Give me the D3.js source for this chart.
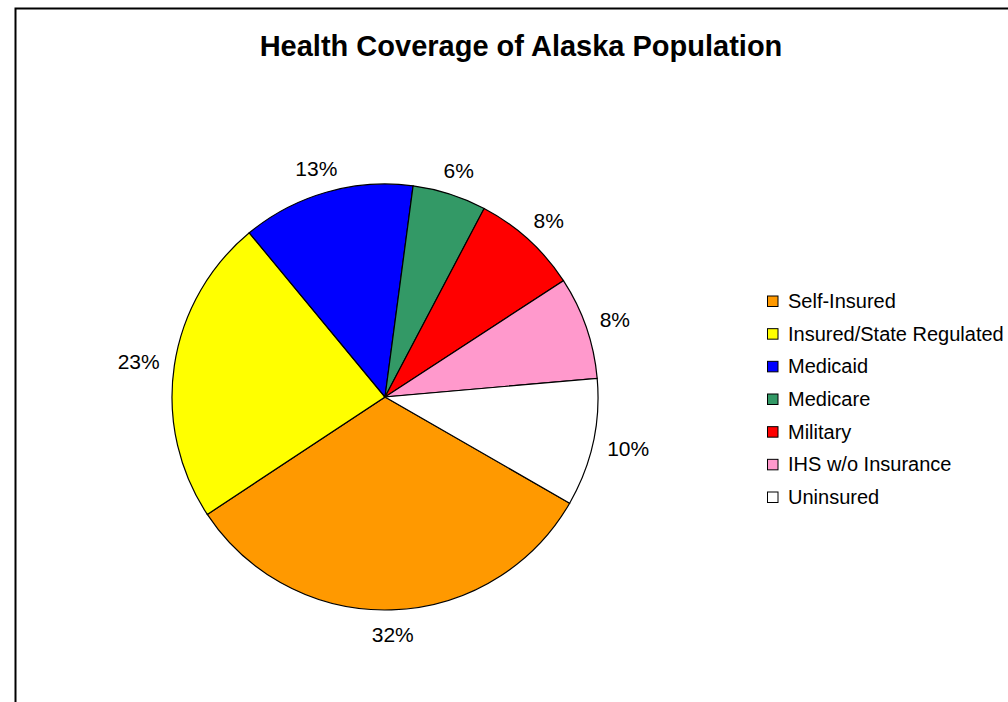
<!DOCTYPE html>
<html>
<head>
<meta charset="utf-8">
<script src="https://cdn.jsdelivr.net/npm/d3@7"></script>
<style>
  html, body { margin: 0; padding: 0; background: #fff; }
  svg { display: block; font-family: "Liberation Sans", Arial, sans-serif; }
</style>
</head>
<body>
<svg id="chart" width="1008" height="702"></svg>
<script>
// Chart data
const categories = ["Self-Insured", "Insured/State Regulated", "Medicaid", "Medicare", "Military", "IHS w/o Insurance", "Uninsured"]
const shares = [32.4, 23.3, 13.1, 5.6, 8.1, 7.8, 9.7]
const colours = ["#FF9900", "#FFFF00", "#0000FF", "#339966", "#FF0000", "#FF99CC", "#FFFFFF"]
const title = "Health Coverage of Alaska Population"

const svg = d3.select("#chart")
const width = 1008, height = 702

// Chart area frame (runs off the right and bottom edges)
svg.append("rect")
  .attr("x", 15.5).attr("y", 8.5)
  .attr("width", width).attr("height", height)
  .attr("fill", "#fff")
  .attr("stroke", "#000")
  .attr("stroke-width", 2)

svg.append("text")
  .attr("x", 521).attr("y", 56)
  .attr("text-anchor", "middle")
  .attr("font-size", 29)
  .attr("font-weight", "bold")
  .text(title)

// Pie
const cx = 385, cy = 397, radius = 213
const startAngle = 119.9 * Math.PI / 180

const pie = d3.pie()
  .sort(null)
  .startAngle(startAngle)
  .endAngle(startAngle + 2 * Math.PI)
  .value(d => d)

const arcs = pie(shares)
const arc = d3.arc().innerRadius(0).outerRadius(radius)

let g = svg.append("g")
  .attr("transform", `translate(${cx},${cy})`)

g.selectAll("path.slice")
  .data(arcs)
  .join("path")
  .attr("class", "slice")
  .attr("d", arc)
  .attr("fill", (d, i) => colours[i])
  .attr("stroke", "#000")
  .attr("stroke-width", 1.2)

// Percent labels sit just outside the rim, pushed out by half their box
const gap = 15, labelHeight = 20
g.selectAll("text.pct")
  .data(arcs)
  .join("text")
  .attr("class", "pct")
  .attr("text-anchor", "middle")
  .attr("dy", "0.35em")
  .attr("font-size", 21)
  .text(d => Math.round(d.value) + "%")
  .attr("transform", function(d) {
    let a = (d.startAngle + d.endAngle) / 2
    let w = this.getComputedTextLength()
    let x = Math.sin(a) * (radius + gap + w / 2)
    let y = -Math.cos(a) * (radius + gap + labelHeight / 2)
    return `translate(${x},${y})`
  })

// Legend
const legendY = d3.scalePoint()
  .domain(categories)
  .range([301, 497])

let legend = svg.append("g")
  .attr("class", "legend")

let rows = legend.selectAll("g.row")
  .data(categories)
  .join("g")
  .attr("class", "row")
  .attr("transform", d => `translate(767,${legendY(d)})`)

rows.append("rect")
  .attr("x", 0.5).attr("y", -5)
  .attr("width", 10.5).attr("height", 10.5)
  .attr("fill", (d, i) => colours[i])
  .attr("stroke", "#000")
  .attr("stroke-width", 1)

rows.append("text")
  .attr("x", 21)
  .attr("dy", "0.35em")
  .attr("font-size", 20)
  .text(d => d)
</script>
</body>
</html>
